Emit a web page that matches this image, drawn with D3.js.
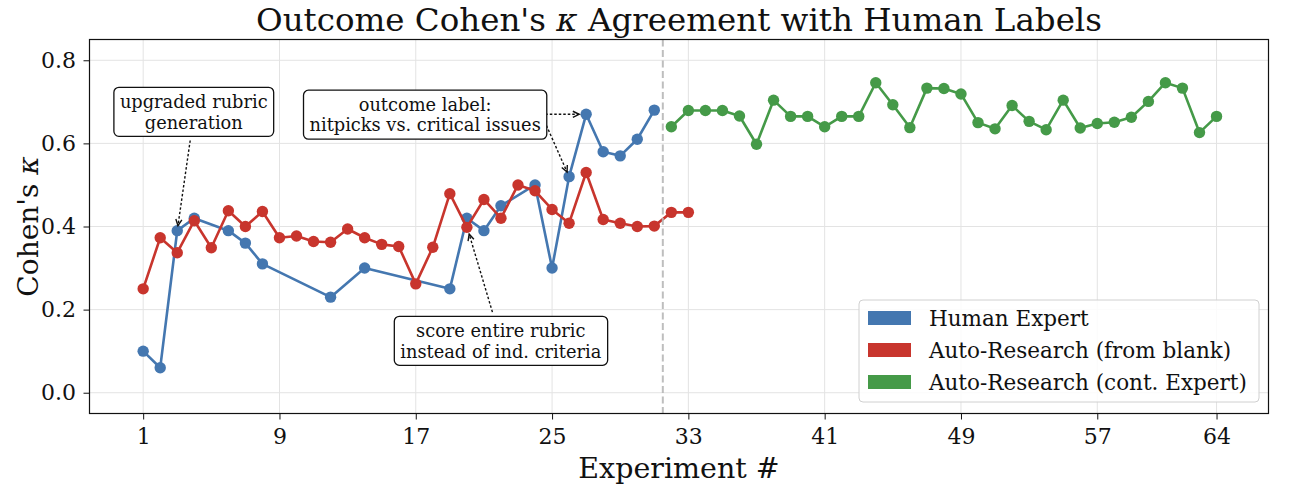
<!DOCTYPE html>
<html>
<head>
<meta charset="UTF-8">
<title>Outcome Cohen's kappa</title>
<script src="https://cdn.jsdelivr.net/npm/d3@7"></script>
<style>
  body { margin:0; background:#fff; }
  text { font-family: "DejaVu Serif", serif; fill:#111; }
</style>
</head>
<body>
<svg id="chart" width="1298" height="496"></svg>
<script>
// ---- data ----
const humanX = [1,2,3,4,6,7,8,12,14,19,20,21,22,24,25,26,27,28,29,30,31];
const humanY = [0.10,0.06,0.39,0.42,0.39,0.36,0.31,0.23,0.30,0.25,0.42,0.39,0.45,0.50,0.30,0.52,0.67,0.58,0.57,0.61,0.68];

const blankX = d3.range(1, 34);
const blankY = [0.25,0.373,0.337,0.414,0.349,0.438,0.40,0.436,0.373,0.377,0.364,0.362,0.394,0.373,0.357,0.352,
                0.262,0.35,0.479,0.398,0.465,0.42,0.50,0.486,0.441,0.408,0.53,0.417,0.408,0.40,0.401,0.434,0.434];

const contX = d3.range(32, 65);
const contY = [0.640,0.679,0.679,0.679,0.666,0.598,0.704,0.665,0.665,0.640,0.665,0.665,0.746,0.693,0.638,0.733,
               0.732,0.719,0.650,0.635,0.691,0.653,0.633,0.704,0.637,0.648,0.651,0.663,0.701,0.746,0.733,0.626,0.665];

const xTicks = [1,9,17,25,33,41,49,57,64];
const yTicks = [0.0,0.2,0.4,0.6,0.8];
const splitAt = 31.5;

const seriesNames = ["Human Expert", "Auto-Research (from blank)", "Auto-Research (cont. Expert)"];
const colors = ["#4477b0", "#c8352d", "#459a48"];

// annotations: text position, arrow start and target in data units
const notes = [
  { lines:["upgraded rubric","generation"], tx:3.97, ty:0.676,
    arrows:[{ from:[3.76,0.607], to:[3,0.39], shrink:5 }] },
  { lines:["outcome label:","nitpicks vs. critical issues"], tx:17.55, ty:0.669,
    arrows:[{ from:[24.6,0.670], to:[27,0.67], shrink:7 },
            { from:[24.67,0.643], to:[26,0.52], shrink:5 }] },
  { lines:["score entire rubric","instead of ind. criteria"], tx:21.99, ty:0.125,
    arrows:[{ from:[21.5,0.194], to:[20,0.40], shrink:8 }] }
];

// ---- layout ----
const pL = 89.5, pR = 1268.5, pT = 39.5, pB = 413.5;
const svg = d3.select("#chart");

const x = d3.scaleLinear().domain([-2.15, 67.05]).range([pL, pR]);
const y = d3.scaleLinear().domain([-0.05, 0.85]).range([pB, pT]);

// grid
const grid = svg.append("g").attr("stroke", "#e3e3e3").attr("stroke-width", 1);
grid.selectAll(".gx").data(xTicks).join("line").attr("class", "gx")
  .attr("x1", d => x(d)).attr("x2", d => x(d)).attr("y1", pT).attr("y2", pB);
grid.selectAll(".gy").data(yTicks).join("line").attr("class", "gy")
  .attr("y1", d => y(d)).attr("y2", d => y(d)).attr("x1", pL).attr("x2", pR);

// axes
const xAxis = svg.append("g").attr("transform", `translate(0,${pB})`)
  .call(d3.axisBottom(x).tickValues(xTicks).tickSize(6).tickPadding(9).tickFormat(d3.format("d")));
const yAxis = svg.append("g").attr("transform", `translate(${pL},0)`)
  .call(d3.axisLeft(y).tickValues(yTicks).tickSize(6).tickPadding(7.5).tickFormat(d3.format(".1f")));
[xAxis, yAxis].forEach(a => {
  a.select(".domain").remove();
  a.selectAll("line").attr("stroke", "#111").attr("stroke-width", 1);
  a.selectAll("text").attr("font-family", "DejaVu Serif").attr("font-size", 22).attr("fill", "#111");
});

// series
const series = [[humanX, humanY], [blankX, blankY], [contX, contY]];
const line = d3.line().x(d => x(d[0])).y(d => y(d[1]));
series.forEach(([xs, ys], i) => {
  const pts = xs.map((v, j) => [v, ys[j]]);
  const g = svg.append("g");
  g.append("path").attr("d", line(pts)).attr("fill", "none")
    .attr("stroke", colors[i]).attr("stroke-width", 2.6).attr("stroke-linejoin", "round");
  g.selectAll("circle").data(pts).join("circle")
    .attr("cx", d => x(d[0])).attr("cy", d => y(d[1])).attr("r", 5.7).attr("fill", colors[i]);
});

// split line
svg.append("line")
  .attr("x1", x(splitAt)).attr("x2", x(splitAt)).attr("y1", pT).attr("y2", pB)
  .attr("stroke", "#b8b8b8").attr("stroke-width", 2).attr("stroke-dasharray", "7,3.5")
  .attr("opacity", 0.9);

// frame
svg.append("rect").attr("x", pL).attr("y", pT).attr("width", pR - pL).attr("height", pB - pT)
  .attr("fill", "none").attr("stroke", "#111").attr("stroke-width", 1.2);

// annotations
const ann = svg.append("g");
notes.forEach(n => {
  n.arrows.forEach(a => {
    const x0 = x(a.from[0]), y0 = y(a.from[1]);
    let x1 = x(a.to[0]), y1 = y(a.to[1]);
    const len = Math.hypot(x1 - x0, y1 - y0);
    const ux = (x1 - x0) / len, uy = (y1 - y0) / len;
    x1 -= ux * a.shrink; y1 -= uy * a.shrink;
    ann.append("line").attr("x1", x0).attr("y1", y0).attr("x2", x1).attr("y2", y1)
      .attr("stroke", "#111").attr("stroke-width", 1.4).attr("stroke-dasharray", "2.5,2");
    const ang = Math.atan2(uy, ux), hl = 7, hw = 0.45;
    const p1 = [x1 - hl * Math.cos(ang - hw), y1 - hl * Math.sin(ang - hw)];
    const p2 = [x1 - hl * Math.cos(ang + hw), y1 - hl * Math.sin(ang + hw)];
    ann.append("path").attr("d", `M${p1}L${x1},${y1}L${p2}`)
      .attr("fill", "none").attr("stroke", "#111").attr("stroke-width", 1.4);
  });
  const cx = x(n.tx), cy = y(n.ty), lh = 20.5;
  const box = ann.append("rect");
  const t = ann.append("text").attr("text-anchor", "middle").attr("font-size", 17.8);
  n.lines.forEach((s, k) => {
    t.append("tspan").attr("x", cx).attr("y", cy + (k - (n.lines.length - 1) / 2) * lh + 6.5).text(s);
  });
  const bb = t.node().getBBox();
  const px = 6, py = 4;
  box.attr("x", bb.x - px).attr("y", cy - lh - py).attr("width", bb.width + 2 * px)
    .attr("height", 2 * lh + 2 * py).attr("rx", 5)
    .attr("fill", "#fff").attr("stroke", "#111").attr("stroke-width", 1.3);
});

// legend
const lg = svg.append("g");
lg.append("rect").attr("x", 859).attr("y", 300).attr("width", 400).attr("height", 102).attr("rx", 4)
  .attr("fill", "#fff").attr("fill-opacity", 0.85).attr("stroke", "#d0d0d0").attr("stroke-width", 1);
seriesNames.forEach((s, i) => {
  const ry = 318 + i * 32;
  lg.append("rect").attr("x", 868).attr("y", ry - 7).attr("width", 43).attr("height", 14).attr("fill", colors[i]);
  lg.append("text").attr("x", 929).attr("y", ry + 7.5).attr("font-size", 21.5).text(s);
});

// labels
svg.append("text").attr("x", (pL + pR) / 2).attr("y", 478).attr("text-anchor", "middle")
  .attr("font-size", 28.5).text("Experiment #");
const yl = svg.append("text").attr("transform", `translate(38,${(pT + pB) / 2}) rotate(-90)`)
  .attr("text-anchor", "middle").attr("font-size", 28);
yl.append("tspan").text("Cohen's ");
yl.append("tspan").attr("font-style", "italic").text("κ");

const title = svg.append("text").attr("x", (pL + pR) / 2).attr("y", 31).attr("text-anchor", "middle")
  .attr("font-size", 32.5);
title.append("tspan").text("Outcome Cohen's ");
title.append("tspan").attr("font-style", "italic").text("κ");
title.append("tspan").text(" Agreement with Human Labels");
</script>
</body>
</html>
